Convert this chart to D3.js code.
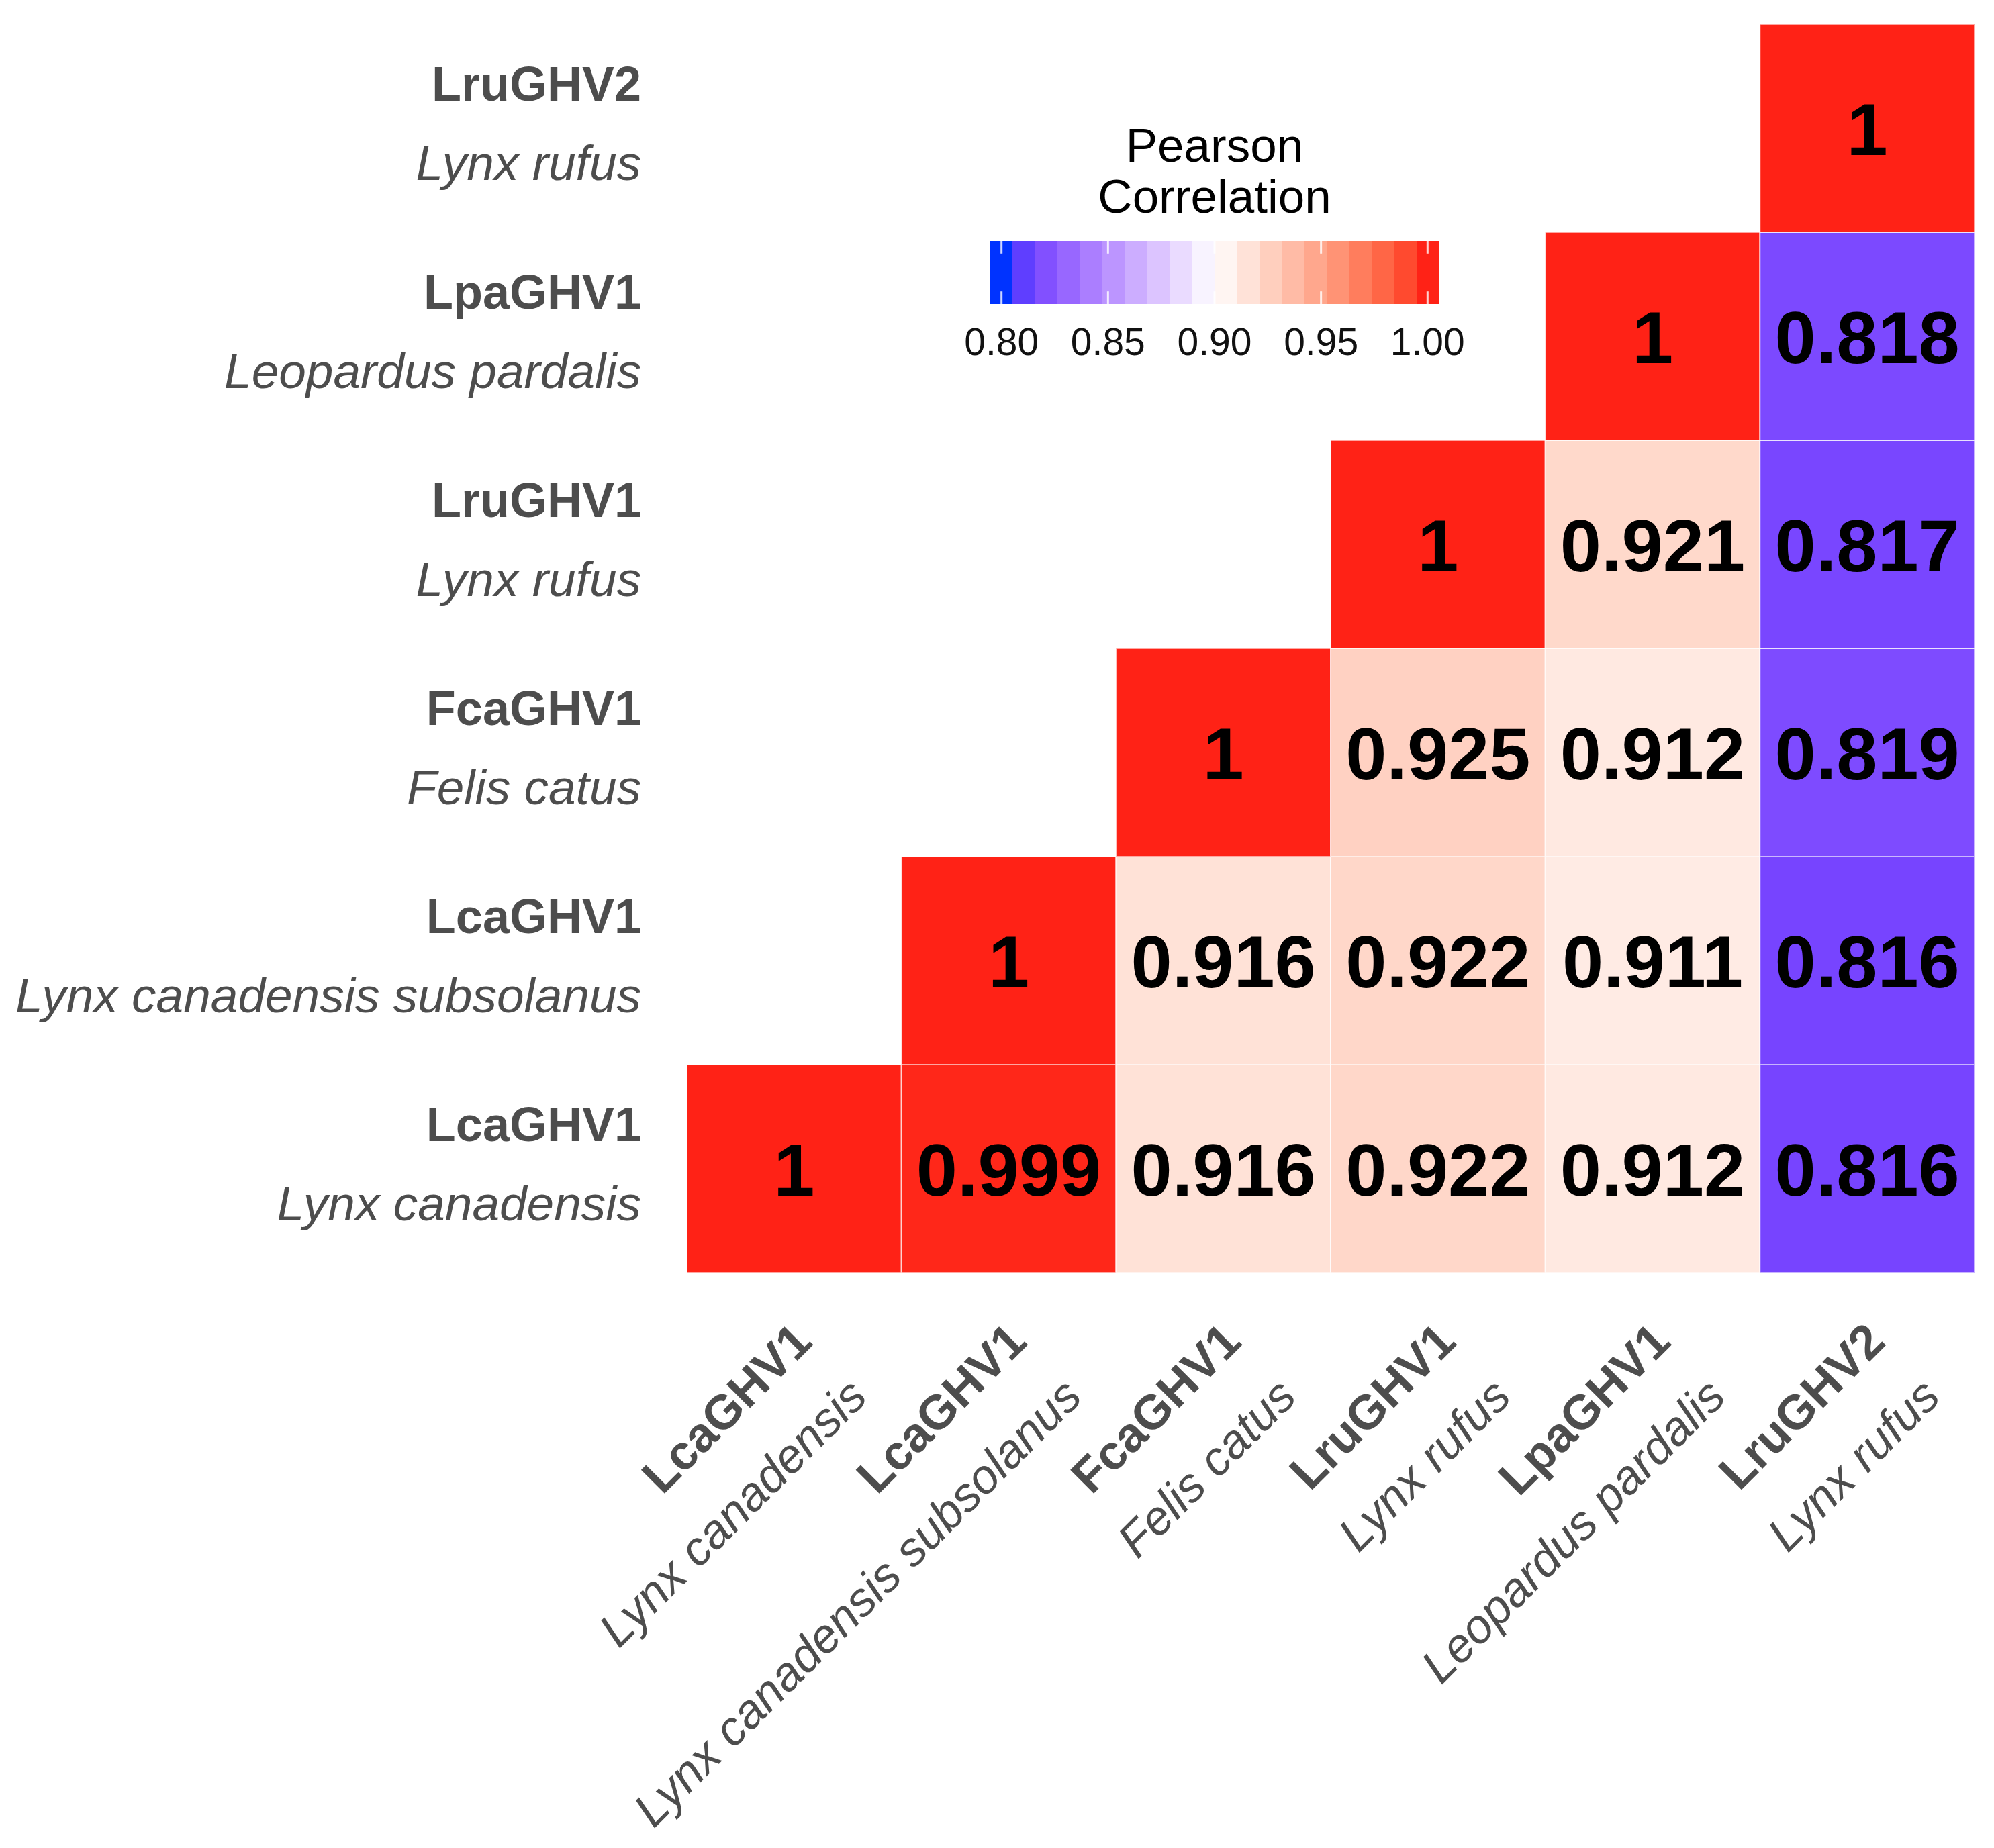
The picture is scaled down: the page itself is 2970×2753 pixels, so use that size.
<!DOCTYPE html>
<html>
<head>
<meta charset="utf-8">
<script src="https://cdn.jsdelivr.net/npm/d3@7"></script>
<style>
  html, body { margin: 0; padding: 0; background: #ffffff; }
  text { font-family: "Liberation Sans", Arial, Helvetica, sans-serif; }
</style>
</head>
<body>
<script>
// ---- data ----
const virusNames = ["LcaGHV1", "LcaGHV1", "FcaGHV1", "LruGHV1", "LpaGHV1", "LruGHV2"];
const hostNames  = ["Lynx canadensis", "Lynx canadensis subsolanus", "Felis catus", "Lynx rufus", "Leopardus pardalis", "Lynx rufus"];
// upper triangle: row r holds correlations with columns r..5
const corrRow0 = [1, 0.999, 0.916, 0.922, 0.912, 0.816];
const corrRow1 = [1, 0.916, 0.922, 0.911, 0.816];
const corrRow2 = [1, 0.925, 0.912, 0.819];
const corrRow3 = [1, 0.921, 0.817];
const corrRow4 = [1, 0.818];
const corrRow5 = [1];
const legendTicks = [0.80, 0.85, 0.90, 0.95, 1.00];
const legendTitle = ["Pearson", "Correlation"];
const legendLimits = [0.8, 1.0];

const corrRows = [corrRow0, corrRow1, corrRow2, corrRow3, corrRow4, corrRow5];
const ids = d3.range(virusNames.length);
const cells = [];
corrRows.forEach((row, r) => row.forEach((v, k) => cells.push({ row: r, col: r + k, value: v })));

// ---- layout ----
const W = 2970, H = 2753;
const svg = d3.select("body").append("svg").attr("width", W).attr("height", H)
  .style("background", "#ffffff");

const x = d3.scaleBand().domain(ids).range([1023, 2941]);
const y = d3.scaleBand().domain(ids.slice().reverse()).range([36, 1896]);

const color = d3.scaleLinear()
  .domain([0.8, 0.816, 0.9, 1.0])
  .range(["#0033FF", "#7744FF", "#FFFFFF", "#FF2216"])
  .interpolate(d3.interpolateLab)
  .clamp(true);

// ---- tiles ----
svg.append("g").selectAll("rect").data(cells).join("rect")
  .attr("x", d => x(d.col))
  .attr("y", d => y(d.row))
  .attr("width", x.bandwidth())
  .attr("height", y.bandwidth())
  .attr("fill", d => color(d.value))
  .attr("stroke", "#ffffff")
  .attr("stroke-opacity", 0.6)
  .attr("stroke-width", 2);

svg.append("g").selectAll("text").data(cells).join("text")
  .attr("x", d => x(d.col) + x.bandwidth() / 2)
  .attr("y", d => y(d.row) + y.bandwidth() / 2 + 40)
  .attr("text-anchor", "middle")
  .attr("font-weight", "bold")
  .attr("font-size", 110)
  .attr("fill", "#000000")
  .text(d => String(d.value));

// ---- y axis labels ----
const yl = svg.append("g").selectAll("g").data(ids).join("g")
  .attr("transform", d => `translate(955,${y(d) + y.bandwidth() / 2})`);
yl.append("text").attr("y", -41).attr("text-anchor", "end")
  .attr("font-size", 72).attr("font-weight", "bold").attr("fill", "#4D4D4D")
  .text(d => virusNames[d]);
yl.append("text").attr("y", 77).attr("text-anchor", "end")
  .attr("font-size", 73).attr("font-style", "italic").attr("fill", "#4D4D4D")
  .text(d => hostNames[d]);

// ---- x axis labels ----
const xl = svg.append("g").selectAll("g").data(ids).join("g")
  .attr("transform", d => `translate(${x(d) + x.bandwidth() / 2 + 30},2002) rotate(-45)`);
xl.append("text").attr("y", 0).attr("text-anchor", "end")
  .attr("font-size", 72).attr("font-weight", "bold").attr("fill", "#4D4D4D")
  .text(d => virusNames[d]);
xl.append("text").attr("y", 116).attr("text-anchor", "end")
  .attr("font-size", 71).attr("font-style", "italic").attr("fill", "#4D4D4D")
  .text(d => hostNames[d]);

// ---- legend ----
const barX0 = 1475, barX1 = 2143, barY = 359, barH = 94, nbin = 20;
const binW = (barX1 - barX0) / nbin;
const binVals = d3.range(nbin).map(i => legendLimits[0] + i * (legendLimits[1] - legendLimits[0]) / (nbin - 1));
const lx = d3.scaleLinear().domain(legendLimits).range([barX0 + binW / 2, barX1 - binW / 2]);

const lg = svg.append("g");
lg.selectAll("rect").data(binVals).join("rect")
  .attr("x", (d, i) => barX0 + i * binW)
  .attr("y", barY)
  .attr("width", (d, i) => i === nbin - 1 ? binW : binW + 1)
  .attr("height", barH)
  .attr("shape-rendering", "crispEdges")
  .attr("fill", d => color(d));

lg.selectAll("line.t1").data(legendTicks).join("line").attr("class", "t1")
  .attr("x1", d => lx(d)).attr("x2", d => lx(d))
  .attr("y1", barY).attr("y2", barY + barH / 5)
  .attr("stroke", "#ffffff").attr("stroke-width", 3).attr("stroke-opacity", 0.8);
lg.selectAll("line.t2").data(legendTicks).join("line").attr("class", "t2")
  .attr("x1", d => lx(d)).attr("x2", d => lx(d))
  .attr("y1", barY + barH - barH / 5).attr("y2", barY + barH)
  .attr("stroke", "#ffffff").attr("stroke-width", 3).attr("stroke-opacity", 0.8);

lg.selectAll("text.tl").data(legendTicks).join("text").attr("class", "tl")
  .attr("x", d => lx(d)).attr("y", 529)
  .attr("text-anchor", "middle").attr("font-size", 57).attr("fill", "#111111")
  .text(d => d3.format(".2f")(d));

lg.selectAll("text.title").data(legendTitle).join("text").attr("class", "title")
  .attr("x", (barX0 + barX1) / 2).attr("y", (d, i) => 241 + i * 76)
  .attr("text-anchor", "middle").attr("font-size", 71).attr("fill", "#000000")
  .text(d => d);
</script>
</body>
</html>
